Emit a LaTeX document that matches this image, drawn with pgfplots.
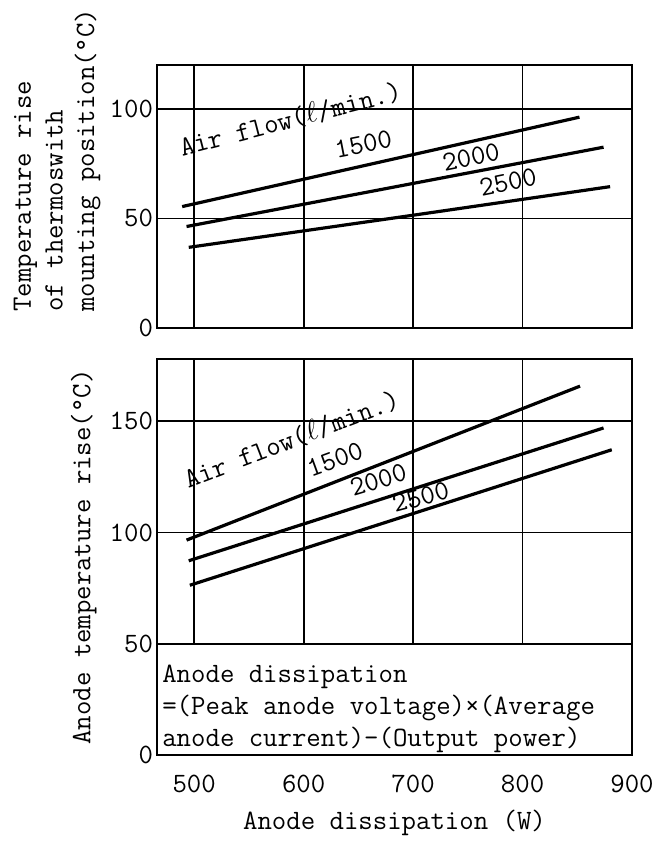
\documentclass[border=0pt]{standalone}
\usepackage{pgfplots}
\pgfplotsset{compat=1.18}
\newcommand\fs{\fontsize{14}{13.5}\selectfont\ttfamily}
\tikzset{lab/.style={font=\fs, inner sep=0pt, anchor=base}}
\pgfplotsset{
  base/.style={
    scale only axis, width=237.5pt,
    xmin=466, xmax=900, xtick={500,600,700,800,900},
    grid=major, grid style={black, line width=0.9pt},
    axis line style={line width=1.2pt},
    major tick length=0pt,
    ticklabel style={font=\fs},
    /pgf/number format/assume math mode=true,
    yticklabel style={xshift=1.5pt},
  },
  curve/.style={black, line width=1.6pt, no marks},
}
\begin{document}
\begin{tikzpicture}
\path[use as bounding box] (-78.5pt,-46pt) rectangle (248pt,377.5pt);
% top panel
\begin{axis}[base, at={(0pt,213.5pt)}, anchor=south west, height=131.5pt,
  ymin=0, ymax=120, ytick={0,50,100}, xticklabels={},
  ylabel={Temperature rise\\[2.3pt]of thermoswith\\[2.3pt]mounting position(°C)},
  ylabel style={font=\fs, align=left, inner sep=0pt, at={(axis description cs:-0.118,0.061)}, anchor=south west}]
\addplot[curve] coordinates {(489,55.4) (852,96.2)};
\addplot[curve] coordinates {(493,46.3) (874,82.5)};
\addplot[curve] coordinates {(495,36.8) (702,51.6) (880,64.5)};
\node[lab, rotate=14.5] at (axis cs:590,91.3) {Air flow($\ell$/min.)};
\node[lab, rotate=11] at (axis cs:656,80.0) {1500};
\node[lab, rotate=11.5] at (axis cs:754.6,74.1) {2000};
\node[lab, rotate=11.5] at (axis cs:788.4,62.6) {2500};
\end{axis}
% bottom panel
\begin{axis}[base, at={(0pt,0pt)}, anchor=south west, height=198pt,
  ymin=0, ymax=178, ytick={0,50,100,150},
  xticklabel style={yshift=-6.3pt},
  xlabel={Anode dissipation (W)},
  xlabel style={font=\fs, at={(axis description cs:0.5,-0.189)}, anchor=base},
  ylabel={Anode temperature rise(°C)},
  ylabel style={font=\fs, inner sep=0pt, at={(axis description cs:-0.1263,0.5)}, anchor=south}]
\addplot[curve] coordinates {(493,96.6) (852.5,165.8)};
\addplot[curve] coordinates {(495,87.3) (874,147)};
\addplot[curve] coordinates {(496,76.3) (881.5,137.2)};
\node[lab, rotate=21] at (axis cs:592,138.2) {Air flow($\ell$/min.)};
\node[lab, rotate=20] at (axis cs:631.3,129.2) {1500};
\node[lab, rotate=17] at (axis cs:670.6,120.0) {2000};
\node[lab, rotate=15] at (axis cs:709,112.2) {2500};
\draw[black, line width=1.2pt, fill=white] (axis cs:466,0) rectangle (axis cs:900,50);
\node[font=\fs, inner sep=0pt, anchor=base west] at (axis cs:470.5,32.8) {Anode dissipation};
\node[font=\fs, inner sep=0pt, anchor=base west] at (axis cs:470.5,18.4) {=(Peak anode voltage)×(Average};
\node[font=\fs, inner sep=0pt, anchor=base west] at (axis cs:470.5,3.6) {anode current)-(Output power)};
\end{axis}
\end{tikzpicture}
\end{document}
